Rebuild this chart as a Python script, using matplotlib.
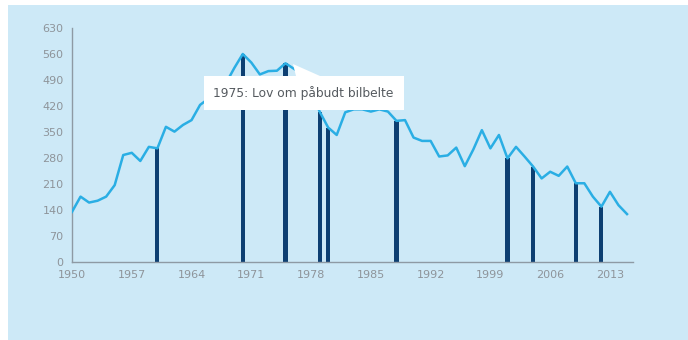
import matplotlib
matplotlib.use("Agg")
import matplotlib.pyplot as plt
from matplotlib.patches import Rectangle, Polygon

## Data
years = list(range(1950, 2016))
values = [135, 176, 160, 165, 176, 207, 288, 294, 272, 310,
          306, 364, 351, 369, 382, 423, 440, 455, 480, 522,
          560, 537, 505, 514, 515, 535, 520, 505, 460, 405,
          362, 342, 403, 411, 411, 405, 411, 405, 380, 382,
          335, 326, 326, 284, 287, 308, 258, 303, 355, 306,
          342, 279, 310, 284, 257, 225, 243, 232, 257, 212,
          212, 176, 149, 189, 153, 129]
marked_years = [1960, 1970, 1975, 1979, 1980, 1988, 2001, 2004, 2009, 2012]
x_ticks = list(range(1950, 2014, 7))
y_ticks = list(range(0, 631, 70))
note = "1975: Lov om påbudt bilbelte"

W, H = 688, 340
fig = plt.figure(figsize=(W / 100, H / 100), dpi=100, facecolor="white")

## light blue panel behind the chart
fig.patches.append(Rectangle((8 / W, 0), 1 - 8 / W, (H - 5) / H,
                             transform=fig.transFigure, facecolor="#cde9f7",
                             edgecolor="none", zorder=-1))

ax = fig.add_axes([72 / W, 1 - 262 / H, (633 - 72) / W, (262 - 28) / H])
ax.set_facecolor("none")

marked_values = [values[years.index(y)] for y in marked_years]
ax.bar(marked_years, marked_values, width=0.48, color="#0d3f72", zorder=2)
ax.plot(years, values, color="#2aaee4", linewidth=1.8, zorder=3,
        solid_joinstyle="round")

ax.set_xlim(1950, 2015.7)
ax.set_ylim(0, 630)
ax.set_xticks(x_ticks)
ax.set_yticks(y_ticks)
ax.tick_params(length=0, labelsize=8, labelcolor="#8e949a", pad=6)

for side in ["top", "right"]:
    ax.spines[side].set_visible(False)
for side in ["left", "bottom"]:
    ax.spines[side].set_color("#8e9aa4")
    ax.spines[side].set_linewidth(1.0)

## tooltip box
bx0, bx1, by0, by1 = 204, 404, 76, 110
fig.patches.append(Polygon([(293 / W, 1 - 64 / H), (296 / W, 1 - by0 / H),
                            (320 / W, 1 - by0 / H)],
                           closed=True, transform=fig.transFigure,
                           facecolor="white", edgecolor="none", zorder=5))
fig.patches.append(Rectangle((bx0 / W, 1 - by1 / H), (bx1 - bx0) / W,
                             (by1 - by0) / H, transform=fig.transFigure,
                             facecolor="white", edgecolor="none", zorder=5))
fig.text(213 / W, 1 - 93 / H, note, fontsize=8.8, color="#555a5f",
         va="center", ha="left", zorder=6)

fig.savefig("out.png", dpi=100, facecolor="white")
